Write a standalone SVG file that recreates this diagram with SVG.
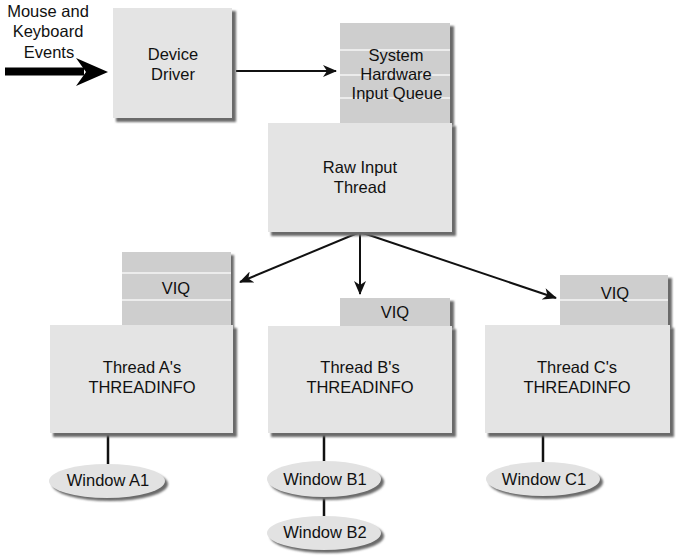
<svg xmlns="http://www.w3.org/2000/svg" width="678" height="560" viewBox="0 0 678 560">
<style>
text{font-family:"Liberation Sans",Arial,sans-serif;font-size:16.5px;fill:#111;text-anchor:middle}
.box{fill:#e4e4e4}
.q{fill:#cecece}
.stripe{stroke:#ececec;stroke-width:2}
.sh{fill:#6a6a6a;filter:url(#blur)}
.ell{fill:#e2e2e2}
.conn{stroke:#111;stroke-width:2;fill:none}
.tree{stroke:#111;stroke-width:2.5;fill:none}
</style>
<defs>
<filter id="blur" x="-10%" y="-10%" width="120%" height="120%"><feGaussianBlur stdDeviation="1.2"/></filter>
<marker id="ah" viewBox="0 0 14 12" refX="13" refY="6" markerWidth="14" markerHeight="12" markerUnits="userSpaceOnUse" orient="auto">
<path d="M0,0 L14,6 L0,12 L4,6 Z" fill="#111"/>
</marker>
</defs>

<g id="connectors">
<path d="M5,71.5 L84,71.5" stroke="#000" stroke-width="8"/>
<path d="M108,72 L76,58 L86,72 L76,86 Z" fill="#000"/>
<line class="conn" x1="236" y1="71" x2="336" y2="71" marker-end="url(#ah)"/>
<line class="conn" x1="360" y1="232" x2="240" y2="282" marker-end="url(#ah)"/>
<line class="conn" x1="360" y1="232" x2="360" y2="294" marker-end="url(#ah)"/>
<line class="conn" x1="360" y1="232" x2="556" y2="298" marker-end="url(#ah)"/>
<line class="tree" x1="108" y1="435" x2="108" y2="464"/>
<line class="tree" x1="324" y1="435" x2="324" y2="462"/>
<line class="tree" x1="324" y1="497" x2="324" y2="517"/>
<line class="tree" x1="543" y1="435" x2="543" y2="462"/>
</g>

<g id="input-label">
<text x="48" y="17">Mouse and</text>
<text x="48" y="37">Keyboard</text>
<text x="49" y="58">Events</text>
</g>

<g id="device-driver">
<rect class="sh" x="116" y="11" width="120" height="111"/>
<rect class="box" x="113" y="8" width="119" height="110"/>
<text x="173" y="60">Device</text>
<text x="173" y="80">Driver</text>
</g>

<g id="system-queue">
<rect class="sh" x="343" y="26" width="111" height="100"/>
<rect class="q" x="340" y="23" width="110" height="100"/>
<line class="stripe" x1="340" y1="50" x2="450" y2="50"/>
<line class="stripe" x1="340" y1="75" x2="450" y2="75"/>
<line class="stripe" x1="340" y1="98" x2="450" y2="98"/>
<text x="396" y="61">System</text>
<text x="396" y="80">Hardware</text>
<text x="397" y="99">Input Queue</text>
</g>

<g id="raw-input-thread">
<rect class="sh" x="271" y="126" width="185" height="110"/>
<rect class="box" x="268" y="123" width="184" height="109"/>
<text x="360" y="173">Raw Input</text>
<text x="360" y="193">Thread</text>
</g>

<g id="thread-a">
<rect class="sh" x="125" y="255" width="109" height="74"/>
<rect class="q" x="122" y="252" width="109" height="74"/>
<line class="stripe" x1="122" y1="273" x2="231" y2="273"/>
<line class="stripe" x1="122" y1="300" x2="231" y2="300"/>
<text x="176" y="294">VIQ</text>
<rect class="sh" x="53" y="328" width="184" height="109"/>
<rect class="box" x="50" y="325" width="183" height="108"/>
<text x="142" y="373">Thread A's</text>
<text x="142" y="393">THREADINFO</text>
</g>

<g id="thread-b">
<rect class="sh" x="343" y="301" width="111" height="28"/>
<rect class="q" x="340" y="298" width="110" height="28"/>
<text x="395" y="318">VIQ</text>
<rect class="sh" x="271" y="329" width="185" height="108"/>
<rect class="box" x="268" y="326" width="184" height="107"/>
<text x="360" y="373">Thread B's</text>
<text x="360" y="393">THREADINFO</text>
</g>

<g id="thread-c">
<rect class="sh" x="563" y="278" width="109" height="51"/>
<rect class="q" x="560" y="275" width="108" height="51"/>
<line class="stripe" x1="560" y1="300" x2="668" y2="300"/>
<text x="615" y="299">VIQ</text>
<rect class="sh" x="488" y="328" width="186" height="109"/>
<rect class="box" x="485" y="325" width="185" height="108"/>
<text x="577" y="373">Thread C's</text>
<text x="577" y="393">THREADINFO</text>
</g>

<g id="window-a1">
<ellipse class="sh" cx="110" cy="484" rx="58" ry="17"/>
<ellipse class="ell" cx="107" cy="481" rx="58" ry="17"/>
<text x="108" y="486">Window A1</text>
</g>

<g id="window-b1">
<ellipse class="sh" cx="327" cy="482" rx="57" ry="18"/>
<ellipse class="ell" cx="324" cy="479" rx="57" ry="18"/>
<text x="325" y="485">Window B1</text>
</g>

<g id="window-b2">
<ellipse class="sh" cx="327" cy="536" rx="57" ry="17"/>
<ellipse class="ell" cx="324" cy="533" rx="57" ry="17"/>
<text x="325" y="538">Window B2</text>
</g>

<g id="window-c1">
<ellipse class="sh" cx="546" cy="482" rx="57" ry="17"/>
<ellipse class="ell" cx="543" cy="479" rx="57" ry="17"/>
<text x="544" y="485">Window C1</text>
</g>
</svg>
